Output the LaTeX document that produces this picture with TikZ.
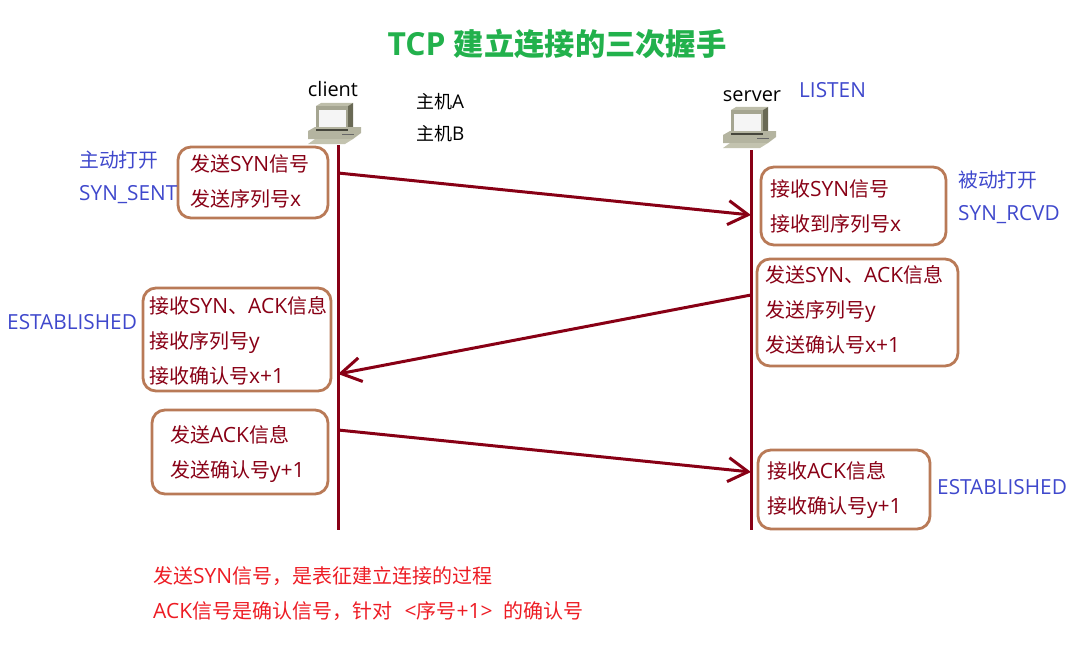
\documentclass[tikz,border=0pt]{standalone}
\usepackage{fontspec}
\setmainfont{Open Sans}[Scale=1.05]
\newfontfamily\cjkfont{Noto Sans CJK SC}
\usepackage{tikz}
\usetikzlibrary{arrows.meta}

% Chinese characters switch to the CJK family by themselves
\XeTeXinterchartokenstate=1
\newcount\cjkcode
\cjkcode="3000
\loop
  \XeTeXcharclass\cjkcode=7
  \advance\cjkcode by 1
\ifnum\cjkcode<"A000 \repeat
\cjkcode="FF00
\loop
  \XeTeXcharclass\cjkcode=7
  \advance\cjkcode by 1
\ifnum\cjkcode<"FFF0 \repeat
\XeTeXinterchartoks 0 7 = {\begingroup\cjkfont}
\XeTeXinterchartoks 4095 7 = {\begingroup\cjkfont}
\XeTeXinterchartoks 7 0 = {\endgroup}
\XeTeXinterchartoks 7 4095 = {\endgroup}

\definecolor{linered}{RGB}{136,0,21}
\definecolor{boxbrown}{RGB}{185,122,87}
\definecolor{stateblue}{RGB}{63,72,204}
\definecolor{notered}{RGB}{237,28,36}
\definecolor{titlegreen}{RGB}{34,177,76}

\tikzset{
  msgbox/.style={draw=boxbrown, line width=2.8pt, rounded corners=13pt, anchor=north west, outer sep=0pt,
    text=linered, align=left, font=\fontsize{20}{35}\selectfont, inner ysep=0pt},
  statelabel/.style={text=stateblue, anchor=west, inner sep=0pt, font=\fontsize{19.8}{35}\selectfont},
  hostlabel/.style={anchor=west, inner sep=0pt, font=\fontsize{18}{20}\selectfont},
  peerlabel/.style={inner sep=0pt, anchor=base, font=\fontsize{19}{24}\selectfont},
  notelabel/.style={text=notered, anchor=west, inner sep=0pt, font=\fontsize{20}{24}\selectfont},
  lifeline/.style={draw=linered, line width=3pt},
  msgarrow/.style={draw=linered, line width=3pt, -{Straight Barb[length=20pt,width=24pt,line width=3pt]}},
  computer/.pic={
    \fill[fill={rgb,255:red,190;green,190;blue,170}] (8,3) -- (13,0) -- (45,0) -- (40,3) -- cycle;
    \fill[fill={rgb,255:red,105;green,105;blue,85}] (40,3) -- (45,0) -- (45,24) -- (40,27) -- cycle;
    \fill[fill={rgb,255:red,165;green,165;blue,145}] (8,3) rectangle (40,27);
    \fill[fill={rgb,255:red,245;green,245;blue,245}] (11,7) rectangle (38,24);
    \fill[fill={rgb,255:red,180;green,180;blue,160}] (0,28) -- (7,24) -- (53,24) -- (53,30) -- (45,36) -- (0,36) -- cycle;
    \fill[fill={rgb,255:red,70;green,70;blue,60}] (8,26) rectangle (40,27.5);
    \draw[black!60] (34,31) -- (46,31);
    \fill[fill={rgb,255:red,195;green,195;blue,175}] (0,41) -- (7,36) -- (45,36) -- (37,41) -- cycle;
  }
}

\begin{document}
\begin{tikzpicture}[x=1pt,y=-1pt]

\useasboundingbox (0,0) rectangle (1080,669);

\node [text=titlegreen, font=\fontsize{30.3}{36}\selectfont\bfseries] (title) at (557,44) {TCP 建立连接的三次握手};

\node [peerlabel] (client) at (333,97) {client};
\node [peerlabel] (server) at (752,102) {server};
\node [hostlabel] (hostA) at (416,102) {主机A};
\node [hostlabel] (hostB) at (416,134) {主机B};

\pic at (308,103) {computer};
\pic at (723,107) {computer};

\coordinate (clientTop) at (338,145);
\coordinate (clientEnd) at (338,530);
\coordinate (serverTop) at (751,150);
\coordinate (serverEnd) at (751,530);

\coordinate (syn1) at (338,173);
\coordinate (syn2) at (751,215);
\coordinate (ack1) at (751,295);
\coordinate (ack2) at (338,374);
\coordinate (est1) at (338,430);
\coordinate (est2) at (751,472);

\draw [lifeline] (clientTop) -- (clientEnd);
\draw [lifeline] (serverTop) -- (serverEnd);

\draw [msgarrow] (syn1) -- (syn2);
\draw [msgarrow] (ack1) -- (ack2);
\draw [msgarrow] (est1) -- (est2);

\node [msgbox, inner xsep=12pt, text width=126pt, minimum height=71pt] (box1) at (178,147) {发送SYN信号\\发送序列号x\par\vspace{3pt}};
\node [msgbox, inner xsep=9pt, text width=167pt, minimum height=78pt] (box2) at (761,167) {接收SYN信号\\接收到序列号x};
\node [msgbox, inner xsep=8pt, text width=185pt, minimum height=107pt] (box3) at (757,259) {发送SYN、ACK信息\\发送序列号y\\发送确认号x+1\par\vspace{6pt}};
\node [msgbox, inner xsep=6pt, text width=176pt, minimum height=103pt] (box4) at (143,288) {接收SYN、ACK信息\\接收序列号y\\接收确认号x+1\par\vspace{-2pt}};
\node [msgbox, inner xsep=18pt, text width=140pt, minimum height=84pt] (box5) at (152,410) {发送ACK信息\\发送确认号y+1\par\vspace{-4pt}};
\node [msgbox, inner xsep=9pt, text width=154pt, minimum height=79pt] (box6) at (758,450) {接收ACK信息\\接收确认号y+1\par\vspace{-2pt}};

\node [statelabel] (active) at (79,160) {主动打开};
\node [statelabel] (synsent) at (79,195) {SYN\_SENT};
\node [statelabel] (estA) at (7,322) {ESTABLISHED};
\node [statelabel] (listen) at (799,90) {LISTEN};
\node [statelabel] (passive) at (958,180) {被动打开};
\node [statelabel] (synrcvd) at (958,215) {SYN\_RCVD};
\node [statelabel] (estB) at (937,487) {ESTABLISHED};

\node [notelabel] (note1) at (153,576) {发送SYN信号，是表征建立连接的过程};
\node [notelabel] (note2) at (153,611) {ACK信号是确认信号，针对\hspace{7pt} <序号+1>\hspace{5pt} 的确认号};

\end{tikzpicture}
\end{document}
